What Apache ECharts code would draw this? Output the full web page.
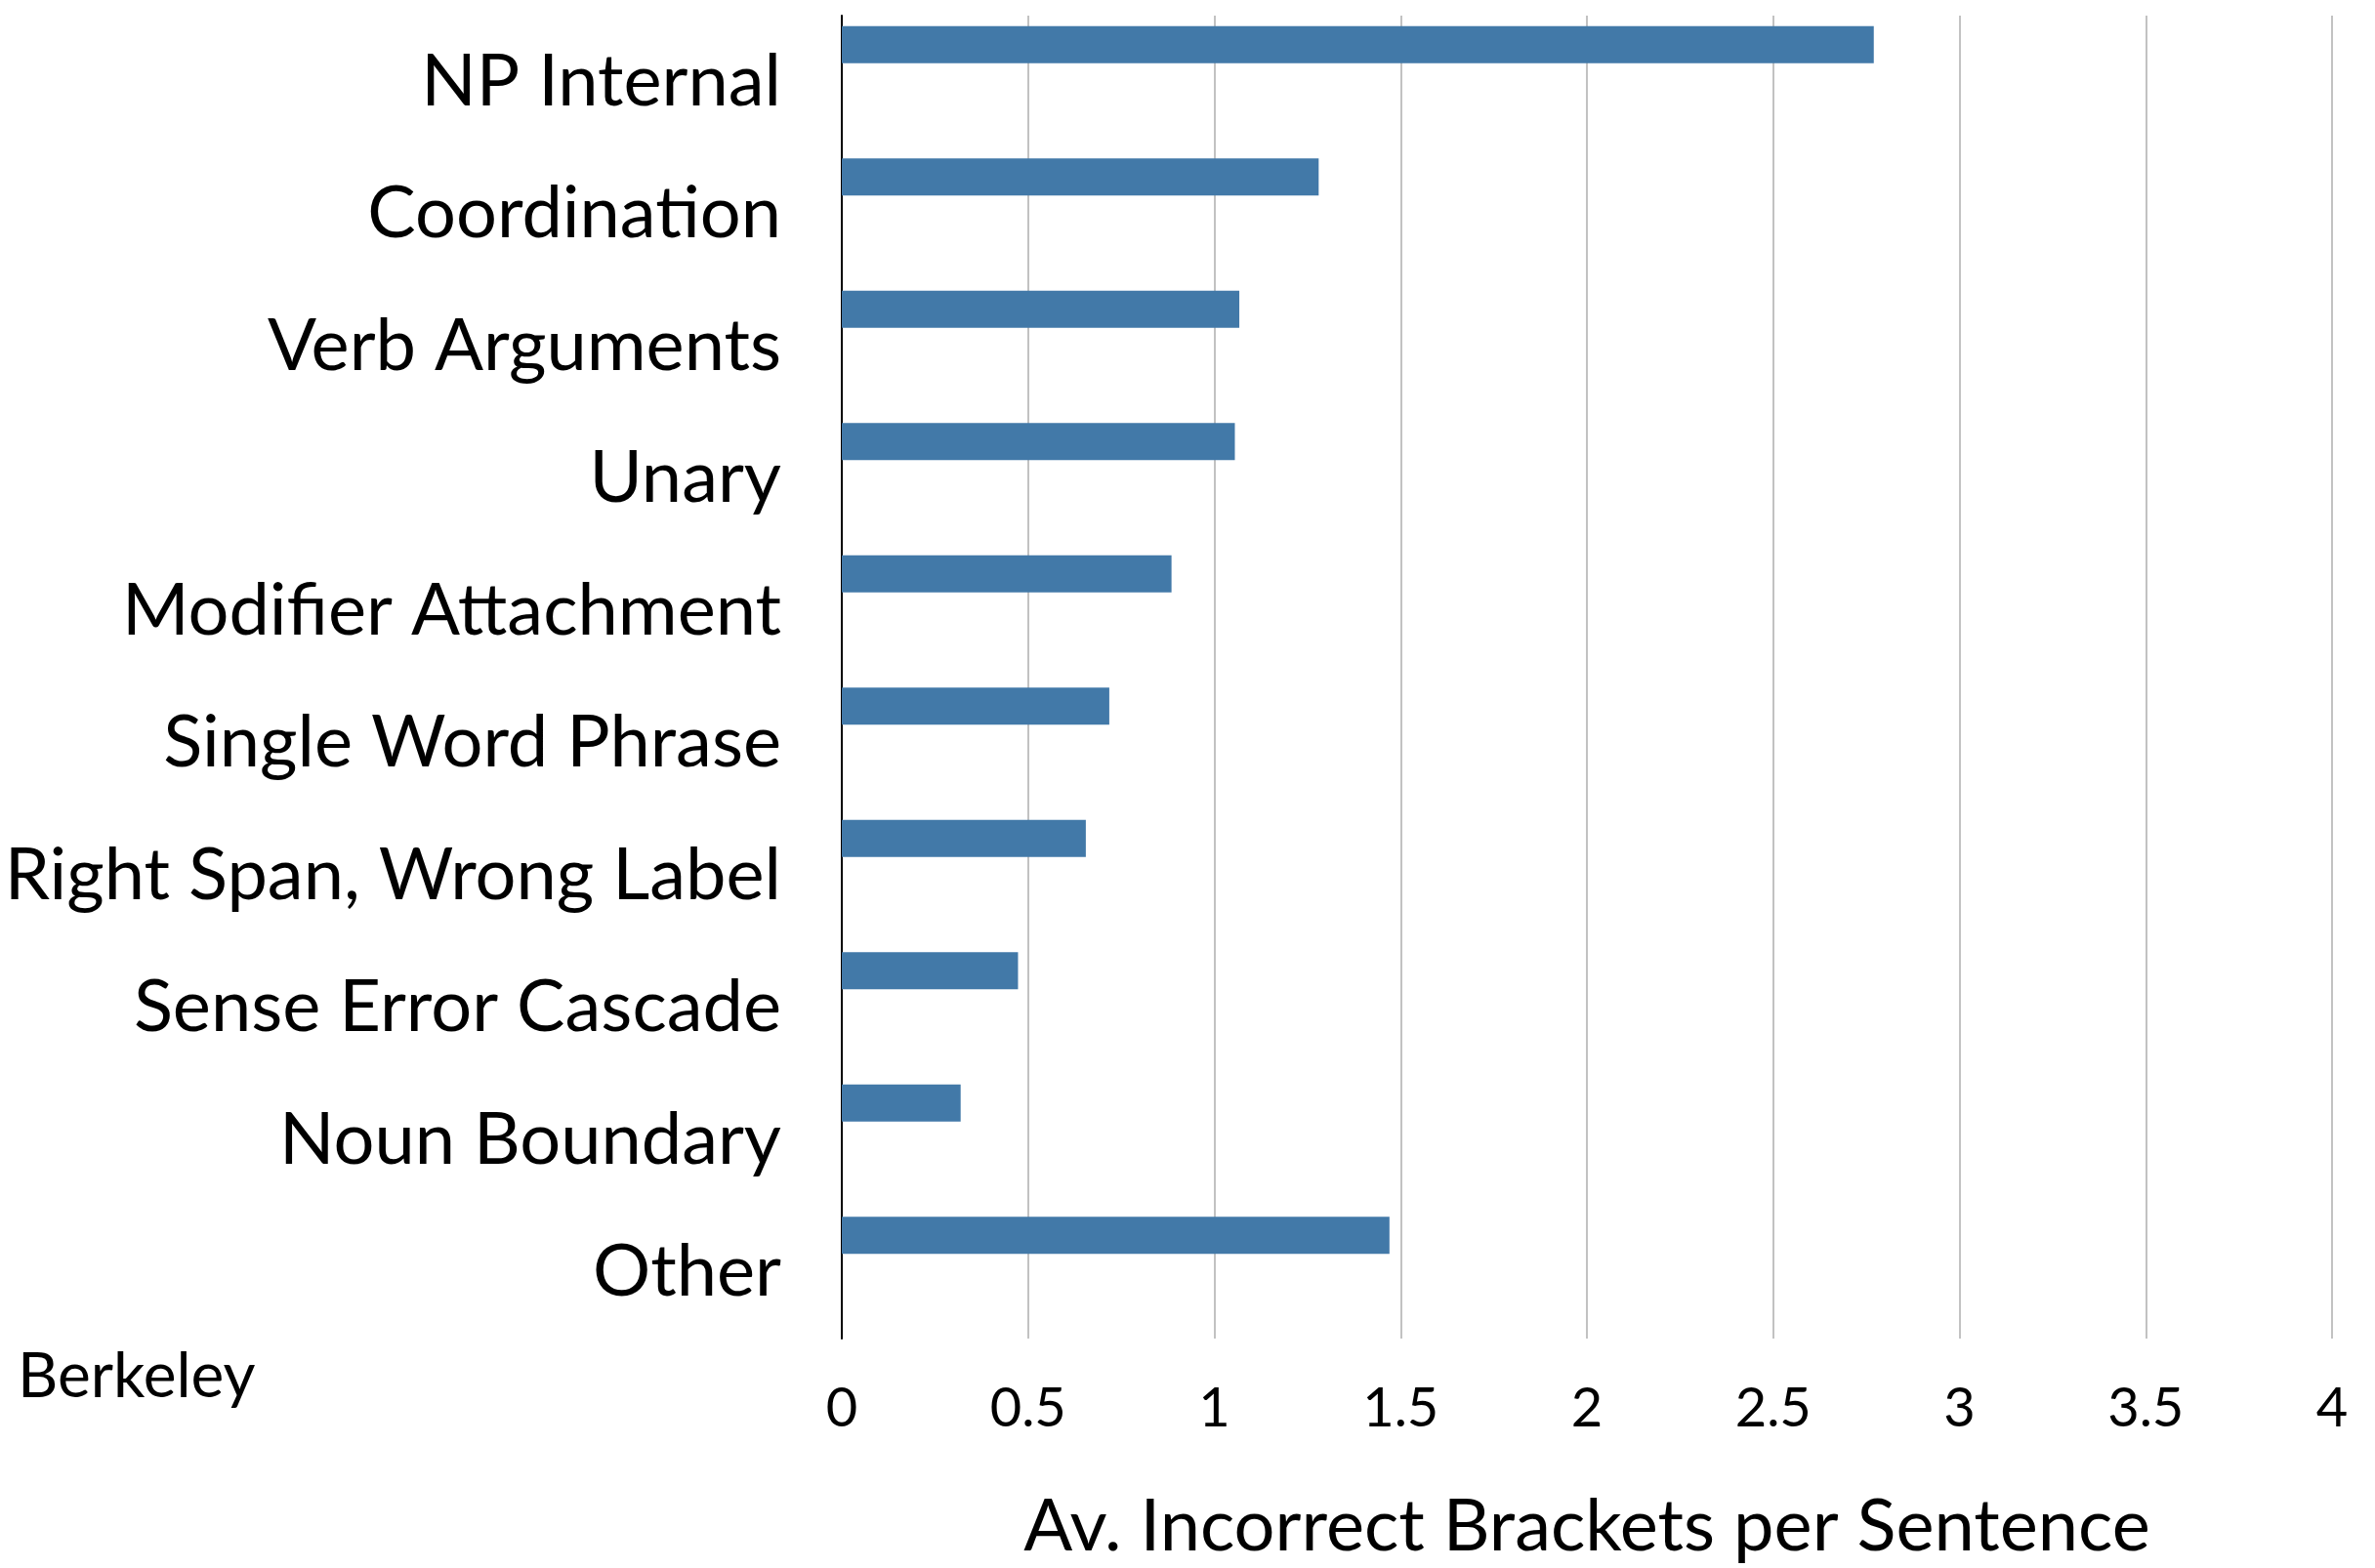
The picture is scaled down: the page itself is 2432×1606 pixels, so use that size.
<!DOCTYPE html>
<html>
<head>
<meta charset="utf-8">
<title>Av. Incorrect Brackets per Sentence</title>
<script src="https://cdn.jsdelivr.net/npm/echarts@6/dist/echarts.min.js"></script>
<style>
  html, body { margin: 0; padding: 0; background: #ffffff; }
  #chart { width: 2432px; height: 1606px; }
</style>
</head>
<body>
<div id="chart"></div>
<script>
// Error categories, top to bottom
const categories = [
  'NP Internal',
  'Coordination',
  'Verb Arguments',
  'Unary',
  'Modifier Attachment',
  'Single Word Phrase',
  'Right Span, Wrong Label',
  'Sense Error Cascade',
  'Noun Boundary',
  'Other'
];

// Average incorrect brackets per sentence for the Berkeley parser
const berkeleyValues = [2.77, 1.28, 1.067, 1.055, 0.885, 0.718, 0.655, 0.473, 0.319, 1.47];

// Two further parser slots share each category band but hold no data yet
const slotB = [];
const slotC = [];

// X axis ticks
const xTicks = [0, 0.5, 1, 1.5, 2, 2.5, 3, 3.5, 4];

const parserName = 'Berkeley';
const xTitle = 'Av. Incorrect Brackets per Sentence';

const FONT = 'Lato, "Open Sans", sans-serif';

const chart = echarts.init(document.getElementById('chart'), null, { renderer: 'canvas' });

chart.setOption({
  animation: false,
  backgroundColor: '#ffffff',
  grid: { left: 862, right: 44, top: 16, bottom: 233, containLabel: false },
  xAxis: {
    type: 'value',
    min: xTicks[0],
    max: xTicks[xTicks.length - 1],
    interval: xTicks[1] - xTicks[0],
    axisLine: { show: false },
    axisTick: { show: false },
    splitLine: { show: true, lineStyle: { color: '#c2c2c2', width: 2 } },
    axisLabel: {
      margin: 44,
      fontFamily: FONT,
      fontSize: 56,
      color: '#000000',
      formatter: v => String(v)
    },
    name: xTitle,
    nameLocation: 'middle',
    nameGap: 156,
    nameTextStyle: { fontFamily: FONT, fontSize: 74, color: '#000000' }
  },
  yAxis: {
    type: 'category',
    data: categories,
    inverse: true,
    axisLine: { show: true, lineStyle: { color: '#000000', width: 2 } },
    axisTick: { show: false },
    splitLine: { show: false },
    axisLabel: {
      margin: 62,
      fontFamily: FONT,
      fontSize: 74,
      color: '#000000',
      interval: 0,
      padding: [18, 0, 0, 0]
    }
  },
  series: [
    {
      name: parserName,
      type: 'bar',
      data: berkeleyValues,
      barWidth: 38,
      barGap: '0%',
      itemStyle: { color: '#4279a8' }
    },
    { name: 'slotB', type: 'bar', data: slotB, barWidth: 38, barGap: '0%' },
    { name: 'slotC', type: 'bar', data: slotC, barWidth: 38, barGap: '0%' }
  ],
  graphic: [
    {
      type: 'text',
      left: 18,
      top: 1378,
      style: {
        text: parserName,
        fontFamily: FONT,
        fontSize: 64,
        fill: '#000000'
      }
    }
  ]
});
</script>
</body>
</html>
